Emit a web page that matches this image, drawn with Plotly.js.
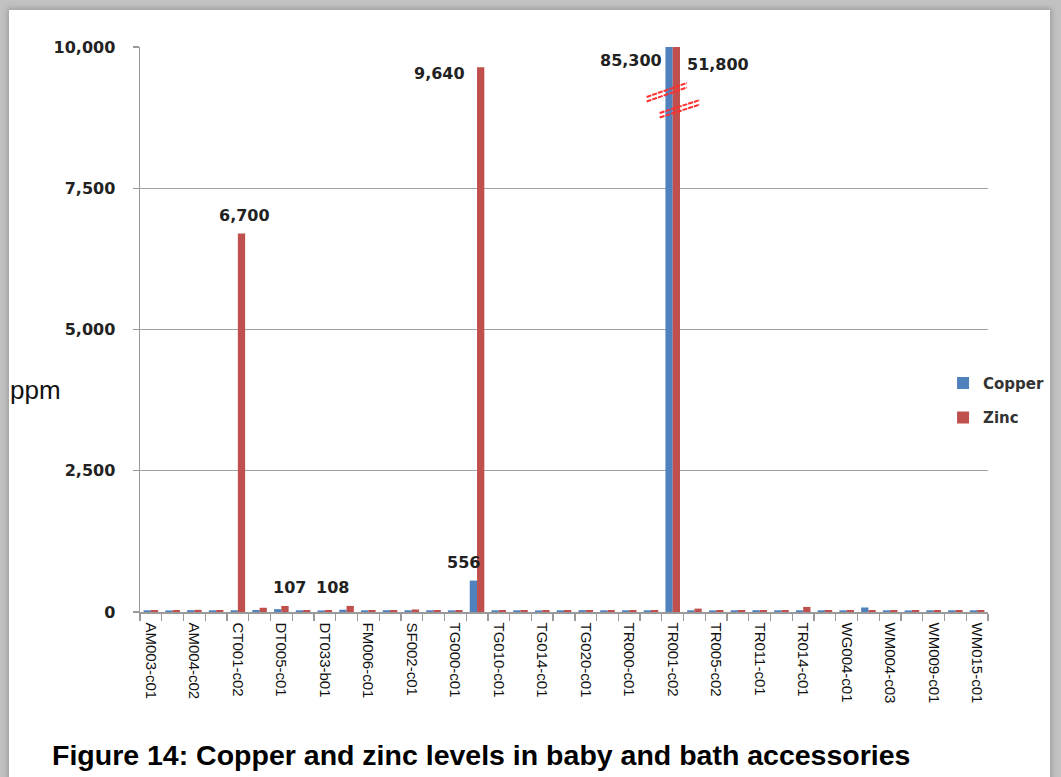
<!DOCTYPE html>
<html><head><meta charset="utf-8">
<script src="https://cdn.plot.ly/plotly-3.0.1.min.js"></script>
<style>
html,body{margin:0;padding:0;width:1061px;height:777px;overflow:hidden;background:#c2c2c2;}
#panel{position:absolute;left:9px;top:10px;width:1041px;height:800px;background:#fff;box-shadow:0 0 5px 2px #a0a0a0;}
#chart{position:absolute;left:0;top:0;width:1061px;height:777px;}
</style></head><body>
<div id="panel"></div><div id="chart"></div>
<script>
// 39 sample positions; only every other one carries a visible label
const tickLabels = ["AM003-c01","AM004-c02","CT001-c02","DT005-c01","DT033-b01","FM006-c01","SF002-c01","TG000-c01","TG010-c01","TG014-c01","TG020-c01","TR000-c01","TR001-c02","TR005-c02","TR011-c01","TR014-c01","WG004-c01","WM004-c03","WM009-c01","WM015-c01"];
const copper = [30,28,32,30,30,35,50,30,28,40,30,32,30,30,28,556,30,30,28,30,32,30,30,30,85300,30,28,30,32,30,30,30,30,80,30,28,30,30,30];
const zinc   = [35,35,38,35,6700,75,107,35,35,108,35,35,45,35,35,9640,35,35,35,35,35,35,35,35,51800,60,35,35,35,35,90,35,35,35,35,35,35,35,35];
const yTicks = [0,2500,5000,7500,10000];
const yMax = 10000;
// data labels: which bar is labelled
const labelled = [
  {series:"zinc", idx:4}, {series:"zinc", idx:6}, {series:"zinc", idx:9},
  {series:"copper", idx:15}, {series:"zinc", idx:15},
  {series:"copper", idx:24}, {series:"zinc", idx:24}
];
// label offsets in pixels (x, y) relative to the bar top
const labelOffsets = [[3,18],[5,18],[-18,18],[-10,18],[-41,-6],[-38,-13],[42,-17]];

const idx = copper.map((_, i) => i);
const tickVals = tickLabels.map((_, i) => i * 2);
const blue = "#4F81BD", red = "#C0504D";
const lblFont = {family:"DejaVu Sans", size:16, color:"#222", weight:"bold"};

const traces = [
  {type:"bar", name:"Copper", x:idx, y:copper, marker:{color:blue}, legendgroup:"a", hoverinfo:"skip"},
  {type:"bar", name:"Zinc", x:idx, y:zinc, marker:{color:red}, legendgroup:"b", hoverinfo:"skip"}
];

const half = (1 - 0.33) / 4;
const annotations = labelled.map((l, k) => {
  const v = (l.series === "copper" ? copper : zinc)[l.idx];
  return {
    x: l.idx + (l.series === "copper" ? -half : half),
    y: Math.min(v, yMax), xref:"x", yref:"y",
    text: v.toLocaleString("en-US"), showarrow:false,
    xanchor:"center", yanchor:"middle",
    xshift: labelOffsets[k][0], yshift: labelOffsets[k][1],
    font: lblFont
  };
});
annotations.push({
  text:"ppm", xref:"paper", yref:"paper", x:-0.156, y:0.393, xanchor:"left", yanchor:"middle",
  showarrow:false, font:{family:"Liberation Sans", size:26, color:"#111"}
});

// axis-break marks on the TR001-c02 pair
const brk = (x0, y0, x1, y1) => ({type:"line", xref:"x", yref:"y", x0, y0, x1, y1,
  line:{color:"#ff3030", width:2, dash:"5px,1px"}});
const shapes = [
  brk(22.8, 9115, 24.65, 9363), brk(22.8, 9035, 24.65, 9283),
  brk(23.4, 8832, 25.25, 9062), brk(23.4, 8752, 25.25, 8982)
];

const layout = {
  width:1061, height:777,
  margin:{l:140, r:73, t:47, b:165, autoexpand:false},
  paper_bgcolor:"rgba(0,0,0,0)", plot_bgcolor:"rgba(0,0,0,0)",
  barmode:"group", bargap:0.33, bargroupgap:0,
  showlegend:true,
  legend:{x:0.947, y:0.375, xanchor:"left", yanchor:"middle", tracegroupgap:12,
    font:{family:"DejaVu Sans", size:15, color:"#333", weight:"bold"}, bgcolor:"rgba(0,0,0,0)"},
  title:{text:"Figure 14: Copper and zinc levels in baby and bath accessories",
    x:52/1061, xanchor:"left", xref:"container", y:(777-755)/777, yref:"container", yanchor:"middle",
    font:{family:"Liberation Sans", size:28.5, color:"#000", weight:"bold"}},
  xaxis:{range:[-0.5, 38.5], tickmode:"array", tickvals:tickVals, ticktext:tickLabels,
    tickangle:90, ticks:"", showgrid:false, zeroline:false,
    showline:true, linecolor:"#9a9a9a", linewidth:1.5,
    tickfont:{family:"Liberation Sans", size:15, color:"#111"}, ticklabelstandoff:6,
    minor:{tickmode:"linear", tick0:-0.5, dtick:1, ticks:"outside", ticklen:7, tickcolor:"#9a9a9a", tickwidth:1.3, showgrid:false}},
  yaxis:{range:[0, yMax], tickmode:"array", tickvals:yTicks, tickformat:",d",
    ticks:"outside", ticklen:6, tickcolor:"#9a9a9a", tickwidth:1.3,
    showgrid:true, gridcolor:"#a3a3a3", gridwidth:1.3, zeroline:false,
    showline:true, linecolor:"#9a9a9a", linewidth:1.5,
    tickfont:lblFont, ticklabelstandoff:14},
  annotations, shapes
};
Plotly.newPlot("chart", traces, layout, {displayModeBar:false, staticPlot:true});
</script></body></html>
